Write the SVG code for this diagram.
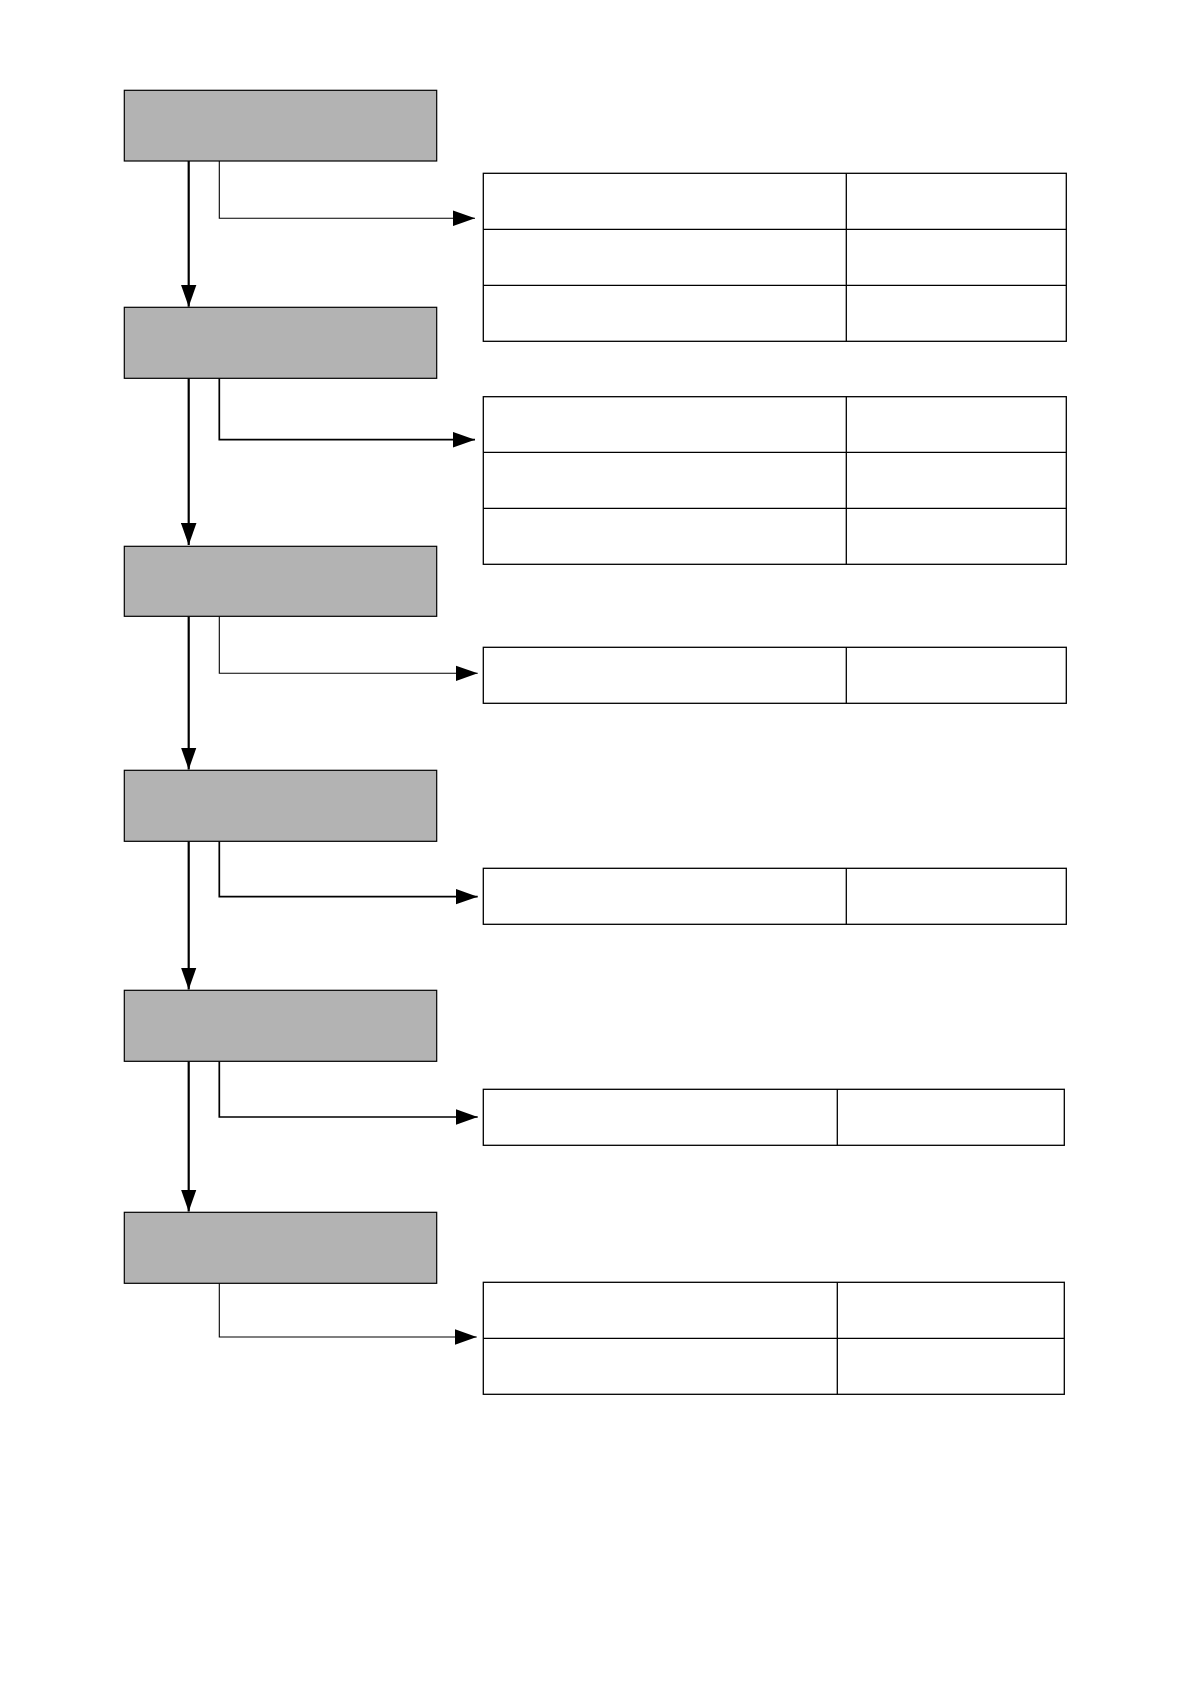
<svg xmlns="http://www.w3.org/2000/svg" width="1190" height="1684" viewBox="0 0 1190 1684">
<style>
.step{fill:#b3b3b3;stroke:#000;stroke-width:1.2}
.tbl{fill:#fff;stroke:#000;stroke-width:1.3}
.main{fill:none;stroke:#000;stroke-width:2.2}
.side{fill:none;stroke:#000;stroke-width:1.1}
.sideb{fill:none;stroke:#000;stroke-width:1.7}
</style>
<defs>
<marker id="ah" markerUnits="userSpaceOnUse" markerWidth="22" markerHeight="16" refX="22" refY="7.75" orient="auto" viewBox="0 0 22 15.5">
<path d="M0,0 L22,7.75 L0,15.5 z" fill="#000"/>
</marker>
</defs>
<rect width="1190" height="1684" fill="#fff"/>
<g id="connectors">
<path class="main" d="M188.7,161 V306.7" marker-end="url(#ah)"/>
<path class="main" d="M188.7,378.3 V545" marker-end="url(#ah)"/>
<path class="main" d="M188.7,616.3 V769.5" marker-end="url(#ah)"/>
<path class="main" d="M188.7,841.3 V989.5" marker-end="url(#ah)"/>
<path class="main" d="M188.7,1061.3 V1211.5" marker-end="url(#ah)"/>
<path class="side" d="M219.3,161 V218.3 H475" marker-end="url(#ah)"/>
<path class="sideb" d="M219.3,378.3 V439.7 H475" marker-end="url(#ah)"/>
<path class="side" d="M219.3,616.3 V673.3 H477.7" marker-end="url(#ah)"/>
<path class="sideb" d="M219.3,841.3 V896.7 H477.7" marker-end="url(#ah)"/>
<path class="sideb" d="M219.3,1061.3 V1117 H477.7" marker-end="url(#ah)"/>
<path class="side" d="M219.3,1283.3 V1337 H476.7" marker-end="url(#ah)"/>
</g>
<g id="step1"><rect class="step" x="124.3" y="90.3" width="312.4" height="70.7"/></g>
<g id="step2"><rect class="step" x="124.3" y="307.3" width="312.4" height="71"/></g>
<g id="step3"><rect class="step" x="124.3" y="546.3" width="312.4" height="70"/></g>
<g id="step4"><rect class="step" x="124.3" y="770.3" width="312.4" height="71"/></g>
<g id="step5"><rect class="step" x="124.3" y="990.3" width="312.4" height="71"/></g>
<g id="step6"><rect class="step" x="124.3" y="1212.3" width="312.4" height="71"/></g>
<g id="table1">
<rect class="tbl" x="483.3" y="173.3" width="583" height="168"/>
<path class="tbl" d="M483.3,229.3 H1066.3 M483.3,285.3 H1066.3 M846.3,173.3 V341.3"/>
</g>
<g id="table2">
<rect class="tbl" x="483.3" y="396.7" width="583" height="167.6"/>
<path class="tbl" d="M483.3,452.3 H1066.3 M483.3,508.3 H1066.3 M846.3,396.7 V564.3"/>
</g>
<g id="table3">
<rect class="tbl" x="483.3" y="647.3" width="583" height="56"/>
<path class="tbl" d="M846.3,647.3 V703.3"/>
</g>
<g id="table4">
<rect class="tbl" x="483.3" y="868.3" width="583" height="56"/>
<path class="tbl" d="M846.3,868.3 V924.3"/>
</g>
<g id="table5">
<rect class="tbl" x="483.3" y="1089.3" width="581" height="56"/>
<path class="tbl" d="M837.3,1089.3 V1145.3"/>
</g>
<g id="table6">
<rect class="tbl" x="483.3" y="1282.3" width="581" height="112"/>
<path class="tbl" d="M483.3,1338.3 H1064.3 M837.3,1282.3 V1394.3"/>
</g>
</svg>
